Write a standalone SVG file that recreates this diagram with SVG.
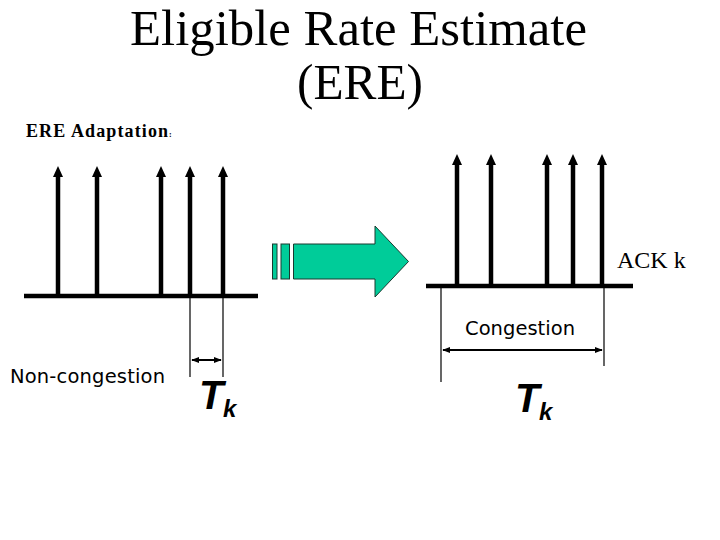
<svg xmlns="http://www.w3.org/2000/svg" width="720" height="540" viewBox="0 0 720 540">
<defs>
<style>
.serif{font-family:"Liberation Serif","Times New Roman",serif;fill:#000}
.sans{font-family:"DejaVu Sans",Verdana,sans-serif;fill:#000;font-size:19.5px}
.tk{font-family:"Liberation Sans",Arial,sans-serif;font-weight:bold;font-style:italic;fill:#000}
.base{stroke:#000;stroke-width:4.5;fill:none}
.stem{stroke:#000;stroke-width:4.5;fill:none}
.thin{stroke:#000;stroke-width:1.2;fill:none}
.dim{stroke:#000;stroke-width:2;fill:none;marker-start:url(#dh);marker-end:url(#dh)}
.head{fill:#000}
</style>
<marker id="dh" viewBox="0 0 10 10" refX="9" refY="5" markerWidth="4" markerHeight="4" orient="auto-start-reverse" markerUnits="strokeWidth">
<path d="M0,1 L10,5 L0,9 Z" fill="#000"/>
</marker>
</defs>
<rect width="720" height="540" fill="#fff"/>
<g id="title">
<text class="serif" x="358.5" y="45" font-size="50" text-anchor="middle" textLength="457" lengthAdjust="spacingAndGlyphs">Eligible Rate Estimate</text>
<text class="serif" x="360" y="99" font-size="50" text-anchor="middle" textLength="126" lengthAdjust="spacingAndGlyphs">(ERE)</text>
</g>
<g id="subtitle">
<text class="serif" x="26" y="137" font-size="18" font-weight="bold" textLength="142" lengthAdjust="spacing">ERE Adaptation</text>
<text class="serif" x="169" y="137" font-size="8" font-weight="bold">:</text>
</g>
<g id="left-timeline">
<line class="base" x1="24" y1="296" x2="258" y2="296"/>
<g>
<line class="stem" x1="58" y1="176" x2="58" y2="296"/><path class="head" d="M58,166 L53,177 L63,177 Z"/>
<line class="stem" x1="97" y1="176" x2="97" y2="296"/><path class="head" d="M97,166 L92,177 L102,177 Z"/>
<line class="stem" x1="161" y1="176" x2="161" y2="296"/><path class="head" d="M161,166 L156,177 L166,177 Z"/>
<line class="stem" x1="190" y1="176" x2="190" y2="296"/><path class="head" d="M190,166 L185,177 L195,177 Z"/>
<line class="stem" x1="223" y1="176" x2="223" y2="296"/><path class="head" d="M223,166 L218,177 L228,177 Z"/>
</g>
</g>
<g id="right-timeline">
<line class="base" x1="426" y1="286" x2="633" y2="286"/>
<g>
<line class="stem" x1="457" y1="164" x2="457" y2="286"/><path class="head" d="M457,154 L452,165 L462,165 Z"/>
<line class="stem" x1="491" y1="164" x2="491" y2="286"/><path class="head" d="M491,154 L486,165 L496,165 Z"/>
<line class="stem" x1="547" y1="164" x2="547" y2="286"/><path class="head" d="M547,154 L542,165 L552,165 Z"/>
<line class="stem" x1="573" y1="164" x2="573" y2="286"/><path class="head" d="M573,154 L568,165 L578,165 Z"/>
<line class="stem" x1="602" y1="164" x2="602" y2="286"/><path class="head" d="M602,154 L597,165 L607,165 Z"/>
</g>
<text class="serif" x="617" y="268" font-size="24">ACK k</text>
</g>
<g id="green-arrow" fill="#00CC99" stroke="#1a3a30" stroke-width="1">
<rect x="272.5" y="244" width="4.5" height="35"/>
<rect x="281" y="244" width="8.5" height="35"/>
<path d="M293.5,244 L375,244 L375,226 L408.5,261.5 L375,297 L375,279 L293.5,279 Z"/>
</g>
<g id="connectors">
<line class="thin" x1="190" y1="298" x2="190" y2="377"/>
<line class="thin" x1="223" y1="298" x2="223" y2="377"/>
<line class="dim" x1="192" y1="360" x2="221" y2="360"/>
<line class="thin" x1="441" y1="288" x2="441" y2="382"/>
<line class="thin" x1="604" y1="288" x2="604" y2="366"/>
<line class="dim" x1="443" y1="350" x2="602" y2="350"/>
</g>
<g id="labels">
<text class="sans" x="10" y="383" textLength="155" lengthAdjust="spacing">Non-congestion</text>
<text class="sans" x="465" y="335" textLength="110" lengthAdjust="spacing">Congestion</text>
<text class="tk" x="199" y="409" font-size="40">T</text>
<text class="tk" x="223" y="417" font-size="24">k</text>
<text class="tk" x="515" y="412" font-size="40">T</text>
<text class="tk" x="539" y="420" font-size="24">k</text>
</g>
</svg>
